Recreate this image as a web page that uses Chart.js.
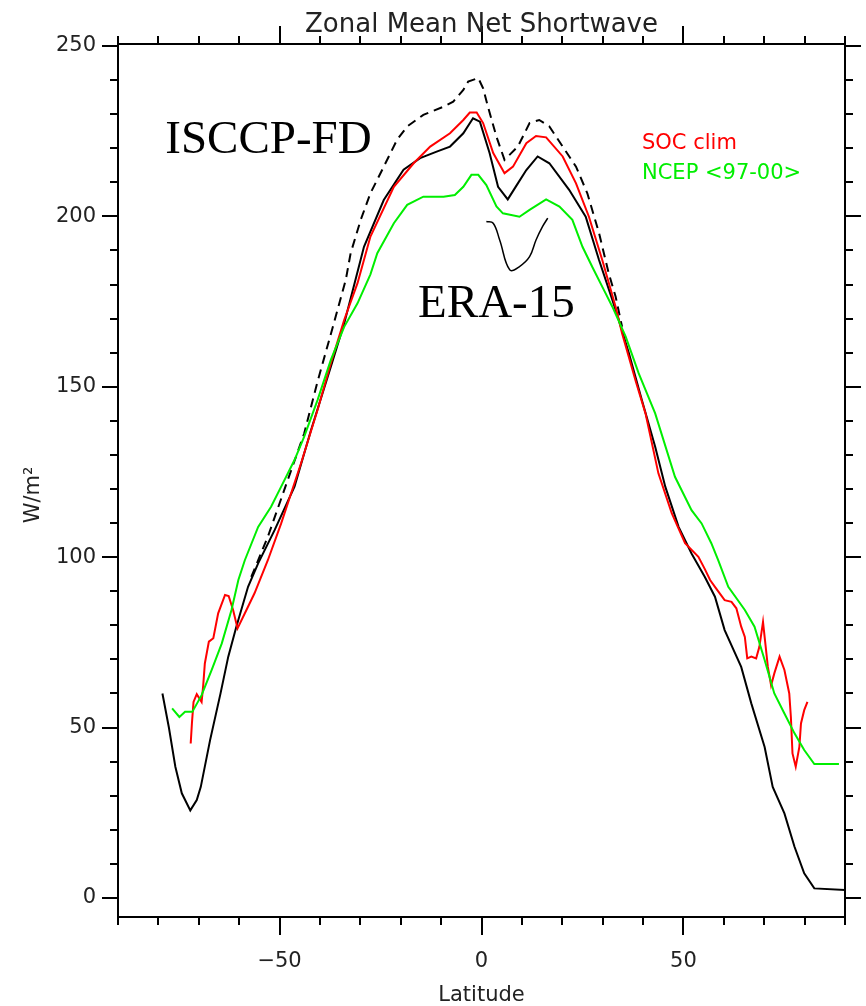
<!DOCTYPE html>
<html>
<head>
<meta charset="utf-8">
<script src="https://cdn.jsdelivr.net/npm/chart.js@4/dist/chart.umd.min.js"></script>
<style>
  html, body { margin: 0; padding: 0; background: #fff; }
  #wrap { width: 866px; height: 1006px; position: relative; }
</style>
</head>
<body>
<div id="wrap"><canvas id="c"></canvas></div>
<script>
// ---- Data (latitude in degrees, net shortwave in W/m^2) ----
const eraLat = [-79.0,-77.4,-75.8,-74.2,-72.1,-70.5,-69.5,-67.2,-64.6,-62.7,-60.7,-57.8,-55.3,-51.2,-46.3,-42.2,-37.3,-34.0,-31.2,-29.1,-24.2,-19.3,-15.2,-11.1,-7.8,-4.5,-2.1,-0.4,2.0,4.1,6.5,9.0,11.1,13.9,16.8,21.7,25.8,29.1,32.4,34.0,36.5,39.7,43.0,45.5,48.8,52.0,55.3,57.8,60.2,64.3,66.8,70.1,72.1,75.0,77.5,79.9,82.4,90.0];
const eraSW  = [60.0,50.0,38.5,30.7,25.7,28.7,32.6,46.3,60.1,70.8,79.6,91.3,98.2,108.0,120.7,137.3,155.9,168.6,181.4,191.1,204.8,213.7,217.1,219.0,220.5,224.4,228.8,227.8,218.6,208.7,205.0,209.7,213.6,217.6,215.6,207.8,199.9,187.2,175.5,169.6,159.8,146.1,132.4,120.7,108.9,101.1,94.2,88.4,78.6,67.8,57.1,44.3,32.6,24.8,15.0,7.2,2.8,2.3];

const isccpLat = [-57.0,-52.9,-48.4,-43.9,-40.6,-36.9,-33.6,-32.4,-29.9,-27.5,-24.2,-20.9,-18.4,-14.4,-9.4,-7.0,-4.5,-3.3,-0.8,0.4,1.6,3.7,5.7,9.0,11.9,14.3,16.8,20.1,23.4,26.2,29.1,31.5,33.2,34.8];
const isccpSW  = [94.2,106.0,121.2,136.3,151.5,167.2,181.4,189.2,199.0,206.8,214.6,222.5,226.4,229.8,232.2,233.7,237.1,239.6,240.6,237.6,232.2,223.4,216.6,220.5,227.4,228.3,226.4,220.5,214.6,206.8,195.1,183.3,176.5,167.6];

const socLat = [-72.0,-71.7,-71.3,-70.5,-69.3,-68.9,-68.5,-67.5,-66.4,-65.2,-63.5,-62.6,-61.5,-60.4,-58.2,-56.2,-52.9,-49.6,-44.7,-40.6,-37.3,-34.0,-30.7,-27.5,-21.7,-16.8,-12.7,-7.8,-4.5,-2.9,-1.2,0.4,2.9,5.7,7.8,11.1,13.5,16.0,20.1,23.4,26.6,29.9,33.2,34.8,38.1,40.6,43.8,47.1,50.4,53.7,55.3,56.6,57.8,60.2,61.9,63.1,64.3,65.2,65.8,66.8,68.0,68.8,69.7,70.1,70.9,71.7,72.5,73.8,75.0,76.2,76.6,77.0,77.8,78.7,79.1,79.9,80.7];
const socSW  = [45.3,51.2,57.5,59.8,57.5,62.4,68.8,75.2,76.2,83.5,88.9,88.6,84.5,79.1,84.5,89.4,99.1,109.9,127.5,143.2,156.9,169.6,180.4,194.1,208.7,215.6,220.5,224.4,228.3,230.5,230.5,227.4,218.6,212.7,214.6,221.5,223.6,223.2,217.6,209.7,199.9,187.2,173.5,165.7,152.0,142.2,124.6,112.9,104.1,100.1,96.5,93.3,91.3,87.4,86.9,85.0,79.6,76.6,70.3,70.8,70.3,73.7,81.0,76.6,67.8,62.4,65.9,70.8,66.9,60.0,53.1,42.4,38.5,44.3,51.2,55.1,57.5];

const ncepLat = [-76.6,-74.8,-73.4,-71.6,-69.3,-66.8,-64.3,-61.9,-60.2,-58.6,-55.3,-52.1,-49.6,-46.3,-43.9,-40.6,-37.3,-34.0,-30.7,-27.5,-25.8,-21.7,-18.4,-14.4,-9.4,-6.6,-4.5,-2.5,-0.8,1.2,3.7,5.3,9.4,11.9,16.0,19.3,22.5,25.0,27.5,30.7,32.4,35.7,38.9,43.0,47.9,52.0,54.5,56.9,58.6,61.1,65.2,67.6,70.1,72.5,75.0,77.5,79.9,82.4,88.5];
const ncepSW  = [55.6,53.1,54.6,54.6,59.5,66.9,74.7,84.5,93.3,99.1,108.9,114.8,120.7,128.5,135.4,146.1,157.9,167.6,174.5,183.0,189.2,198.0,203.4,205.8,205.8,206.3,208.7,212.2,212.2,209.2,202.9,200.9,199.9,201.9,205.0,202.9,199.0,191.1,185.0,177.5,173.5,164.7,154.0,142.2,123.6,113.8,109.9,104.1,99.1,91.3,84.5,79.6,69.8,60.0,54.1,48.3,43.4,39.3,39.3];

// hand-drawn pointer under the ERA-15 label (in data coordinates)
const pointerLat = [1.2,2.9,4.5,7.0,9.4,11.9,13.5,15.1,16.4];
const pointerSW  = [198.5,198.0,193.1,184.3,185.3,188.2,193.1,197.0,199.5];

const xTickValues = [-50, 0, 50];
const yTickValues = [0, 50, 100, 150, 200, 250];
const chartTitle = 'Zonal Mean Net Shortwave';
const xTitle = 'Latitude';
const yTitle = 'W/m²';
const legendItems = [['SOC clim', '#ff0000'], ['NCEP <97-00>', '#00ee00']];

const pts = (xs, ys) => xs.map((x, i) => ({x: x, y: ys[i]}));

const framePlugin = {
  id: 'frame',
  afterDraw(chart) {
    const ctx = chart.ctx;
    const a = chart.chartArea;
    const xs = chart.scales.x, ys = chart.scales.y;
    ctx.save();
    ctx.strokeStyle = '#000';
    ctx.lineWidth = 2;
    ctx.strokeRect(a.left, a.top, a.right - a.left, a.bottom - a.top);
    ctx.beginPath();
    for (let v = -90; v <= 90; v += 10) {
      const p = Math.round(xs.getPixelForValue(v));
      const len = (v % 50 === 0) ? 18 : 8;
      ctx.moveTo(p, a.bottom); ctx.lineTo(p, a.bottom + len);
      ctx.moveTo(p, a.top); ctx.lineTo(p, a.top - len);
    }
    for (let v = 0; v <= 250; v += 10) {
      const p = Math.round(ys.getPixelForValue(v));
      const len = (v % 50 === 0) ? 16 : 8;
      ctx.moveTo(a.left - len, p); ctx.lineTo(a.left, p);
      ctx.moveTo(a.right, p); ctx.lineTo(a.right + len, p);
    }
    ctx.stroke();

    // titles
    ctx.fillStyle = '#222';
    ctx.font = '26px "DejaVu Sans"';
    ctx.textAlign = 'center';
    ctx.textBaseline = 'alphabetic';
    ctx.fillText(chartTitle, (a.left + a.right) / 2, 32);
    ctx.font = '21px "DejaVu Sans"';
    ctx.fillText(xTitle, (a.left + a.right) / 2, 1001);
    ctx.save();
    ctx.translate(39, 495);
    ctx.rotate(-Math.PI / 2);
    ctx.font = '21px "DejaVu Sans"';
    ctx.fillText(yTitle, 0, 0);
    ctx.restore();

    // legend text
    ctx.textAlign = 'left';
    ctx.font = '21px "DejaVu Sans"';
    legendItems.forEach((it, i) => {
      ctx.fillStyle = it[1];
      ctx.fillText(it[0], 642, 149 + i * 30);
    });

    // dataset labels
    ctx.fillStyle = '#000';
    ctx.font = '47px "Liberation Serif"';
    ctx.fillText('ISCCP-FD', xs.getPixelForValue(-78.3), ys.getPixelForValue(218.6));
    ctx.fillText('ERA-15', xs.getPixelForValue(-15.7), ys.getPixelForValue(170.5));
    ctx.restore();
  }
};

new Chart(document.getElementById('c'), {
  type: 'line',
  data: {
    datasets: [
      { label: 'NCEP <97-00>', data: pts(ncepLat, ncepSW), borderColor: '#00ee00', borderWidth: 2, pointRadius: 0, tension: 0 },
      { label: 'SOC clim', data: pts(socLat, socSW), borderColor: '#ff0000', borderWidth: 2, pointRadius: 0, tension: 0 },
      { label: 'ISCCP-FD', data: pts(isccpLat, isccpSW), borderColor: '#000', borderWidth: 2, borderDash: [9, 6], pointRadius: 0, tension: 0 },
      { label: 'ERA-15', data: pts(eraLat, eraSW), borderColor: '#000', borderWidth: 2, pointRadius: 0, tension: 0 },
      { label: 'pointer', data: pts(pointerLat, pointerSW), borderColor: '#000', borderWidth: 1.5, pointRadius: 0, tension: 0.4 }
    ]
  },
  options: {
    responsive: true,
    maintainAspectRatio: false,
    animation: false,
    layout: { padding: { top: 44, right: 21, left: 0, bottom: 0 } },
    plugins: { legend: { display: false }, tooltip: { enabled: false }, title: { display: false } },
    scales: {
      x: {
        type: 'linear', min: -90, max: 90,
        afterBuildTicks: (axis) => { axis.ticks = xTickValues.map(v => ({value: v})); },
        afterFit: (s) => { s.height = 89; },
        grid: { display: false, drawTicks: false },
        border: { display: false },
        ticks: { padding: 32, color: '#222', font: { family: 'DejaVu Sans', size: 21 }, callback: (v) => String(v).replace('-', '−') }
      },
      y: {
        type: 'linear', min: -5.6, max: 250.6,
        afterBuildTicks: (axis) => { axis.ticks = yTickValues.map(v => ({value: v})); },
        afterFit: (s) => { s.width = 118; },
        grid: { display: false, drawTicks: false },
        border: { display: false },
        ticks: { padding: 22, color: '#222', font: { family: 'DejaVu Sans', size: 21 } }
      }
    }
  },
  plugins: [framePlugin]
});
</script>
</body>
</html>
